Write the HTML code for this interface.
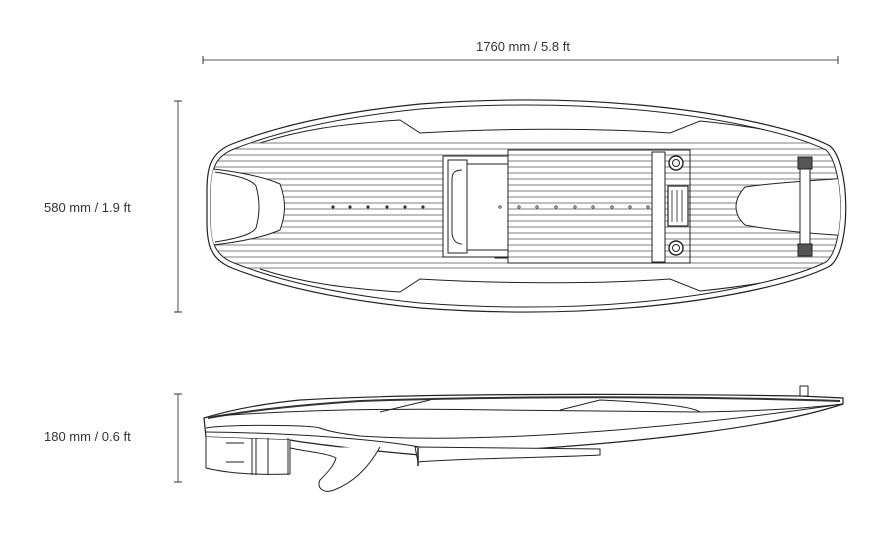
<!DOCTYPE html>
<html><head><style>
html,body{margin:0;padding:0;background:#fff;}
svg{display:block}
text{font-family:"Liberation Sans",sans-serif;font-size:13px;fill:#333}
</style></head><body>
<svg width="895" height="559" viewBox="0 0 895 559" xmlns="http://www.w3.org/2000/svg">
<defs>
<clipPath id="board"><path d="M234,149 C282,130 342,117 420,109 C500,103 580,104 650,111 C728,119 796,135 826,150 C844,166 846,246 826,262 C796,277 728,293 650,301 C580,308 500,309 420,303 C342,295 282,282 234,263 C216,256 211,244 211,222 L211,190 C211,168 216,156 234,149 Z"/></clipPath>
</defs>
<!-- dimensions -->
<text x="476" y="51">1760 mm / 5.8 ft</text>
<line x1="203" y1="60" x2="838" y2="60" stroke="#777" stroke-width="1.3"/>
<line x1="203" y1="56" x2="203" y2="64" stroke="#333"/>
<line x1="838" y1="56" x2="838" y2="64" stroke="#333"/>
<text x="44" y="212">580 mm / 1.9 ft</text>
<line x1="178" y1="101" x2="178" y2="312" stroke="#777" stroke-width="1.3"/>
<line x1="174" y1="101" x2="182" y2="101" stroke="#333"/>
<line x1="174" y1="312" x2="182" y2="312" stroke="#333"/>
<text x="44" y="441">180 mm / 0.6 ft</text>
<line x1="178" y1="394" x2="178" y2="482" stroke="#777" stroke-width="1.3"/>
<line x1="174" y1="394" x2="182" y2="394" stroke="#333"/>
<line x1="174" y1="482" x2="182" y2="482" stroke="#333"/>

<!-- top view -->
<g fill="none" stroke="#222" stroke-width="1">
<path d="M232,144 C280,125 340,112 420,104 C500,98 580,99 650,106 C730,114 800,130 830,146 C850,162 852,250 830,266 C800,282 730,298 650,306 C580,313 500,314 420,308 C340,300 280,287 232,268 C212,260 207,247 207,222 L207,190 C207,165 212,152 232,144 Z" stroke-width="1.2"/>
<path d="M234,149 C282,130 342,117 420,109 C500,103 580,104 650,111 C728,119 796,135 826,150 C844,166 846,246 826,262 C796,277 728,293 650,301 C580,308 500,309 420,303 C342,295 282,282 234,263 C216,256 211,244 211,222 L211,190 C211,168 216,156 234,149 Z"/>
<g clip-path="url(#board)">
<path d="M260,143 C300,130 340,124 400,120 L420,133 C500,128 600,128 670,133 L700,121 C760,127 800,136 830,143" />
<path d="M260,269 C300,282 340,288 400,292 L420,279 C500,284 600,284 670,279 L700,291 C760,285 800,276 830,269"/>
<g stroke="#555" stroke-width="0.7">
<path d="M200,143H850M200,149H850M200,155H850M200,161H850M200,167H850M200,173H850M200,179H850M200,185H850M200,191H850M200,197H850M200,203H850M200,209H850M200,215H850M200,221H850M200,227H850M200,233H850M200,239H850M200,245H850M200,251H850M200,257H850M200,263H850M200,268H850"/>
</g>
<!-- front insert -->
<path d="M200,168 C230,170 262,176 280,184 C286,200 286,214 280,230 C262,238 230,244 200,246 Z" fill="#fff"/>
<path d="M215,172 C240,176 252,180 256,186 C260,200 260,214 256,228 C252,234 240,238 215,242"/>
<!-- rear insert -->
<path d="M850,178 C820,180 770,183 745,187 C733,200 733,214 745,225 C770,230 820,234 850,236 Z" fill="#fff"/>
</g>
<!-- handle area -->
<path d="M508,150 L690,150 L690,263 L508,263 L508,258 L495,258 L495,251 L508,251 Z M508,150 L508,156 L495,156 L495,163 L508,163"/>
<rect x="443" y="156" width="65" height="101" fill="#fff"/>
<rect x="448" y="160" width="19" height="93"/>
<path d="M467,164 L508,164 M467,250 L508,250"/>
<path d="M462,170 C452,170 452,176 452,180 L452,232 C452,238 455,244 462,244"/>
<!-- right plate -->
<rect x="652" y="152" width="13" height="110" fill="#fff"/>
<circle cx="676" cy="163" r="7" fill="#fff" stroke-width="1.4"/>
<circle cx="676" cy="163" r="3.5"/>
<circle cx="676" cy="248" r="7" fill="#fff" stroke-width="1.4"/>
<circle cx="676" cy="248" r="3.5"/>
<rect x="668" y="186" width="20" height="40" fill="#fff" stroke-width="1.2"/>
<path d="M672,190v32M677,190v32M682,190v32" stroke-width="0.8"/>
<rect x="800" y="157" width="10" height="98" fill="#fff"/>
<rect x="798" y="157" width="14" height="12" fill="#555"/>
<rect x="798" y="244" width="14" height="12" fill="#555"/>
</g>
<!-- dots -->
<g fill="#333">
<circle cx="333" cy="207" r="1.6"/><circle cx="350" cy="207" r="1.6"/><circle cx="368" cy="207" r="1.6"/><circle cx="387" cy="207" r="1.6"/><circle cx="405" cy="207" r="1.6"/><circle cx="423" cy="207" r="1.6"/>
</g>
<g fill="#fff" stroke="#333" stroke-width="0.8">
<circle cx="500" cy="207" r="1.2"/><circle cx="519" cy="207" r="1.2"/><circle cx="537" cy="207" r="1.2"/><circle cx="556" cy="207" r="1.2"/><circle cx="575" cy="207" r="1.2"/><circle cx="593" cy="207" r="1.2"/><circle cx="612" cy="207" r="1.2"/><circle cx="630" cy="207" r="1.2"/><circle cx="648" cy="207" r="1.2"/>
</g>

<!-- side view -->
<g fill="none" stroke="#222" stroke-width="1">
<path d="M204,418 C230,410 260,404 300,400 C400,394 600,393 800,396 L843,398 L843,404 C780,425 650,445 420,455 C360,450 300,442 290,440 L206,437 Z" fill="#fff" stroke-width="1.2"/>
<path d="M208,418 C250,410 300,405 360,401 C500,396 700,396 840,401" stroke="#333" stroke-width="2"/>
<path d="M215,416 C300,410 400,408 500,410 L700,412 C760,411 810,408 843,404"/>
<path d="M380,412 L430,400 M560,410 L600,400 M600,400 C640,402 690,405 700,412"/>
<path d="M206,428 C230,424 310,425 320,428 C330,432 345,434 360,436 C500,445 700,425 843,404"/>
<path d="M206,432 C300,433 380,440 420,447"/>
<path d="M206,437 L206,468 C230,474 260,475 290,474 L290,440" fill="#fff"/>
<path d="M252,438 V475 M256,438 V475 M268,438 V475 M288,438 V475"/>
<path d="M226,443 H244 M226,462 H244"/>
<path d="M290,448 C310,452 330,454 336,458 C334,466 326,474 320,480 C316,488 324,494 334,490 C355,482 370,465 380,447" fill="#fff"/>
<path d="M415,447 L600,449 L600,455 C540,458 470,458 418,462 Z" fill="#fff"/>
<path d="M418,448 V466" stroke-width="1.5"/>
<rect x="800" y="386" width="8" height="10" fill="#fff"/>
</g>
</svg>
</body></html>
